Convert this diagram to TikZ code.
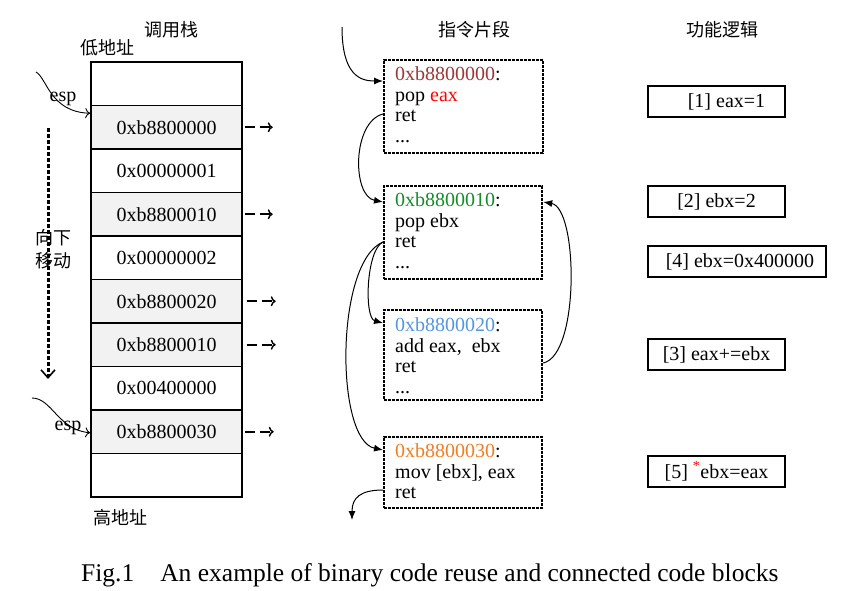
\documentclass[tikz,border=0pt]{standalone}
\usepackage{fontspec}
\setmainfont{Liberation Serif}
\newfontfamily\cjk{Noto Sans CJK SC}
\usetikzlibrary{arrows.meta}
\definecolor{addrA}{RGB}{155,55,55}
\definecolor{addrB}{RGB}{20,140,40}
\definecolor{addrC}{RGB}{85,150,225}
\definecolor{addrD}{RGB}{240,125,35}
\definecolor{shade}{RGB}{242,242,242}
\tikzset{
  txt/.style={font=\fontsize{20}{22}\selectfont, inner sep=0pt},
  cjktxt/.style={font=\cjk\fontsize{18}{20}\selectfont, inner sep=0pt},
  cell/.style={txt, draw, line width=1.5pt, minimum width=151pt, minimum height=43.5pt},
  gcell/.style={cell, fill=shade},
  ptr/.style={line width=1.6pt, dash pattern=on 10pt off 5pt, -{To[length=5pt,width=10pt,line width=1.4pt]}},
  code/.style={draw, line width=2.2pt, dash pattern=on 3pt off 1pt, anchor=north west, inner sep=0pt},
  cline/.style={txt, anchor=base west},
  flow/.style={line width=1pt, -{Latex[length=9pt,width=7pt]}},
  espa/.style={line width=0.9pt, -{To[length=5pt,width=10pt]}},
  fbox/.style={txt, draw, line width=1.5pt, minimum width=137pt, minimum height=31pt},
}
\begin{document}
\begin{tikzpicture}[x=1pt,y=-1pt]
\useasboundingbox (0,0) rectangle (867,590);

% titles
\node[cjktxt] (t1) at (171,30) {调用栈};
\node[cjktxt] (t2) at (474,30) {指令片段};
\node[cjktxt] (t3) at (722,30) {功能逻辑};
\node[cjktxt] (low) at (107,48) {低地址};
\node[cjktxt] (high) at (120,518) {高地址};

% stack
\node[cell]  (r0) at (166.5,83.75) {};
\node[gcell] (r1) at (166.5,127.25) {0xb8800000};
\node[cell]  (r2) at (166.5,170.75) {0x00000001};
\node[gcell] (r3) at (166.5,214.25) {0xb8800010};
\node[cell]  (r4) at (166.5,257.75) {0x00000002};
\node[gcell] (r5) at (166.5,301.25) {0xb8800020};
\node[gcell] (r6) at (166.5,344.75) {0xb8800010};
\node[cell]  (r7) at (166.5,388.25) {0x00400000};
\node[gcell] (r8) at (166.5,431.75) {0xb8800030};
\node[cell]  (r9) at (166.5,475.25) {};

% pointer arrows
\draw[ptr] ([xshift=2pt]r1.east) -- ([xshift=30pt]r1.east);
\draw[ptr] ([xshift=2pt]r3.east) -- ([xshift=30pt]r3.east);
\draw[ptr] ([xshift=4pt]r5.east) -- ([xshift=33pt]r5.east);
\draw[ptr] ([xshift=4pt]r6.east) -- ([xshift=33pt]r6.east);
\draw[ptr] ([xshift=2pt]r8.east) -- ([xshift=31pt]r8.east);

% esp markers
\coordinate (e1s) at (36,72);
\coordinate (e2s) at (32,398);
\draw[espa] (e1s) .. controls (47,78) and (50,112) .. ([yshift=14pt]r1.west);
\node[txt] (esp1) at (63,99) {esp};
\draw[espa] (e2s) .. controls (52,398) and (58,430) .. ([yshift=-1pt]r8.west);
\node[txt] (esp2) at (68,428) {esp};

% downward move
\coordinate (dtop) at (48,128);
\coordinate (dbot) at (48,379);
\draw[line width=3pt, dash pattern=on 3.5pt off 2.5pt, -{Straight Barb[length=8pt,width=14pt,line width=1.6pt]}] (dtop) -- (dbot);
\node[cjktxt] (mv1) at (53,238) {向下};
\node[cjktxt] (mv2) at (53,261) {移动};

% code blocks
\node[code, minimum width=159pt, minimum height=93pt] (b1) at (383,59) {};
\node[cline] (b1a) at (395,80) {\textcolor{addrA}{0xb8800000}:};
\node[cline] (b1b) at (395,101) {pop \textcolor{red}{eax}};
\node[cline] (b1c) at (395,121) {ret};
\node[cline] (b1d) at (395,142) {...};

\node[code, minimum width=158pt, minimum height=93pt] (b2) at (383,185) {};
\node[cline] (b2a) at (395,206) {\textcolor{addrB}{0xb8800010}:};
\node[cline] (b2b) at (395,227) {pop ebx};
\node[cline] (b2c) at (395,247) {ret};
\node[cline] (b2d) at (395,268) {...};

\node[code, minimum width=158pt, minimum height=90pt] (b3) at (383,309) {};
\node[cline] (b3a) at (395,331) {\textcolor{addrC}{0xb8800020}:};
\node[cline] (b3b) at (395,352) {add eax,\ \ ebx};
\node[cline] (b3c) at (395,372) {ret};
\node[cline] (b3d) at (395,393) {...};

\node[code, minimum width=158pt, minimum height=71pt] (b4) at (383,436) {};
\node[cline] (b4a) at (395,457) {\textcolor{addrD}{0xb8800030}:};
\node[cline] (b4b) at (395,478) {mov [ebx], eax};
\node[cline] (b4c) at (395,498) {ret};

% control flow
\coordinate (start) at (342,27);
\coordinate (end) at (352,520);
\draw[flow] (start) .. controls (342,75) and (360,81) .. ([yshift=-22pt]b1.north west);
\draw[flow] ([yshift=-55pt]b1.north west) .. controls (352,122) and (352,196) .. ([yshift=-17pt]b2.north west);
\draw[flow] ([yshift=-57pt]b2.north west) .. controls (366,250) and (364,318) .. ([yshift=-14pt]b3.north west);
\draw[flow] ([yshift=-57pt]b2.north west) .. controls (335,262) and (335,440) .. ([yshift=-14pt]b4.north west);
\draw[flow] ([yshift=-54pt]b3.north east) .. controls (580,355) and (578,208) .. ([yshift=-17pt]b2.north east);
\draw[flow] ([yshift=-54pt]b4.north west) .. controls (360,490) and (352,498) .. (end);

% function logic
\node[fbox] (f1) at (716.5,101.5) {\hspace{20pt}[1] eax=1};
\node[fbox] (f2) at (716.5,201.5) {[2] ebx=2};
\node[fbox, minimum width=178pt] (f4) at (737,261.5) {\hspace{6pt}[4] ebx=0x400000};
\node[fbox] (f3) at (716.5,354.5) {[3] eax+=ebx};
\node[fbox] (f5) at (716.5,471.5) {[5] \textsuperscript{\textcolor{red}{*}}ebx=eax};

% caption
\node[txt, font=\fontsize{25.5}{28}\selectfont, anchor=base west] (cap) at (81,581) {Fig.1\hspace{26pt}An example of binary code reuse and connected code blocks};
\end{tikzpicture}
\end{document}
